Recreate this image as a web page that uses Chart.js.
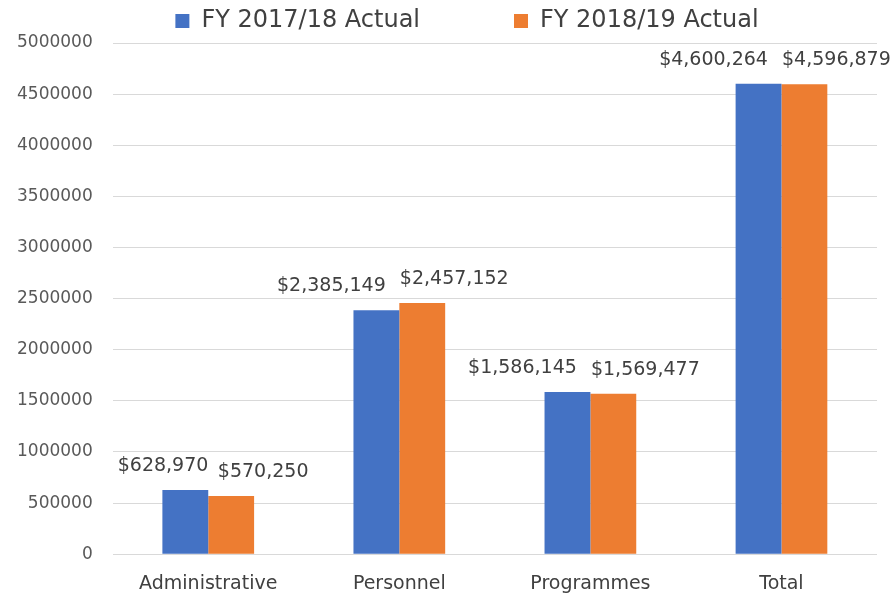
<!DOCTYPE html>
<html><head><meta charset="utf-8">
<script src="https://cdn.jsdelivr.net/npm/chart.js@4"></script>
<style>html,body{margin:0;padding:0;background:#fff}#wrap{width:896px;height:599px}</style>
</head><body><div id="wrap"><canvas id="c" width="896" height="599"></canvas></div>
<script>
const categories = ['Administrative', 'Personnel', 'Programmes', 'Total'];
const fy1718 = [628970, 2385149, 1586145, 4600264];
const fy1819 = [570250, 2457152, 1569477, 4596879];
const seriesNames = ['FY 2017/18 Actual', 'FY 2018/19 Actual'];
const yMin = 0, yMax = 5000000, yStep = 500000;

const FONT = '"DejaVu Sans", sans-serif';
const TEXT = '#404040';

const barLabels = {
  id: 'barLabels',
  afterDatasetsDraw(chart, args, opts) {
    const {ctx, chartArea} = chart;
    ctx.save();
    ctx.font = '19px ' + FONT;
    ctx.fillStyle = TEXT;
    ctx.textAlign = 'center';
    ctx.textBaseline = 'middle';
    chart.data.datasets.forEach((ds, i) => {
      const meta = chart.getDatasetMeta(i);
      meta.data.forEach((bar, j) => {
        const txt = '$' + ds.data[j].toLocaleString('en-US');
        const w = ctx.measureText(txt).width;
        let x = bar.x + opts.dx[i];
        x = Math.max(x, chartArea.left + 5 + w / 2);
        ctx.fillText(txt, x, bar.y + opts.dy[i]);
      });
    });
    ctx.restore();
  }
};

const legendShift = {
  id: 'legendShift',
  afterLayout(chart, args, opts) {
    chart.legend.left += opts.shift;
    chart.legend.right += opts.shift;
  }
};

new Chart(document.getElementById('c'), {
  type: 'bar',
  data: {
    labels: categories,
    datasets: [
      {label: seriesNames[0], data: fy1718, backgroundColor: '#4472C4'},
      {label: seriesNames[1], data: fy1819, backgroundColor: '#ED7D31'}
    ]
  },
  options: {
    responsive: false,
    animation: false,
    categoryPercentage: 0.48,
    barPercentage: 1.0,
    layout: {padding: {top: -85, left: -3, right: 19, bottom: -6}},
    plugins: {
      legend: {
        position: 'top',
        labels: {
          boxWidth: 14, boxHeight: 14, padding: 94,
          color: TEXT,
          font: {family: FONT, size: 24}
        }
      },
      tooltip: {enabled: false},
      barLabels: {dx: [-45, 32], dy: [-24, -24]},
      legendShift: {shift: 30}
    },
    scales: {
      x: {
        grid: {display: false},
        border: {display: false},
        ticks: {color: TEXT, padding: 10, font: {family: FONT, size: 19}}
      },
      y: {
        min: yMin, max: yMax,
        grid: {color: '#d9d9d9', drawTicks: false},
        border: {display: false},
        ticks: {
          stepSize: yStep, color: '#595959', padding: 20,
          font: {family: FONT, size: 17},
          callback: v => String(v)
        }
      }
    }
  },
  plugins: [barLabels, legendShift]
});
</script>
</body></html>
